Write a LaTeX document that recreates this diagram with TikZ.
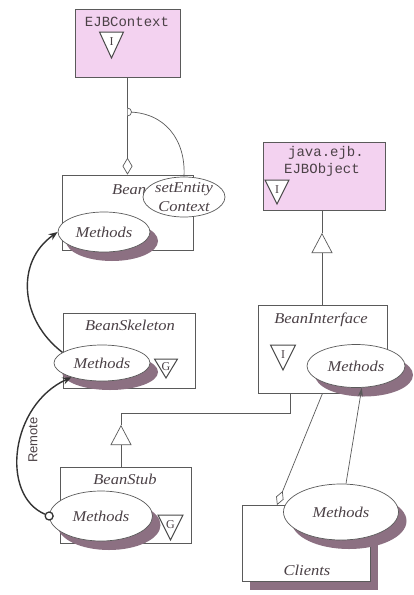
\documentclass[tikz,border=0pt]{standalone}
\usepackage{fontspec}
\setmainfont{Liberation Serif}
\setsansfont{Liberation Sans}
\setmonofont{Liberation Mono}
\newfontfamily\labfont[FakeStretch=1.1]{Liberation Serif}
\usetikzlibrary{shapes.geometric,arrows.meta,shadows}
\definecolor{lc}{RGB}{90,90,90}
\definecolor{tc}{RGB}{75,65,70}
\definecolor{pinkf}{RGB}{243,210,240}
\definecolor{shc}{RGB}{140,112,130}
% triangle marker: name, x, top y, width, height, letter
\newcommand\mytri[6]{%
  \draw[trist] (#2-#4/2,#3) -- (#2+#4/2,#3) -- (#2,#3+#5) -- cycle;
  \node[trilet] (#1) at (#2,#3+#5*0.38) {#6};}
\begin{document}
\begin{tikzpicture}[x=1pt,y=-1pt,
  box/.style={draw=lc,line width=0.7pt,fill=white,inner sep=0pt},
  pbox/.style={box,fill=pinkf},
  lbl/.style={text=tc,font=\labfont\itshape\fontsize{15}{19}\selectfont,inner sep=0pt},
  mono/.style={text=tc,font=\ttfamily\fontsize{14}{16}\selectfont,inner sep=0pt},
  meth/.style={ellipse,draw=lc,line width=0.7pt,fill=white,inner sep=0pt,lbl},
  shd/.style={drop shadow={shadow xshift=8pt,shadow yshift=-9pt,fill=shc,opacity=1}},
  trist/.style={draw=lc!80!black,line width=1pt,fill=white,line join=miter},
  trilet/.style={text=tc,font=\rmfamily\fontsize{12}{12}\selectfont,inner sep=0pt},
  ln/.style={draw=lc,line width=0.7pt},
  remote/.style={draw=black!80,line width=1.4pt,-{Stealth[length=9pt,width=7pt]}},
  gen/.style={ln,-{Triangle[open,length=20pt,width=21pt]}},
]
\useasboundingbox[fill=white] (0,0) rectangle (413,595);

% EJBContext
\node[pbox,minimum width=105pt,minimum height=68pt] (ctx) at (127.5,43) {};
\node[mono] (ctxT) at (127,22) {EJBContext};
\mytri{ctxI}{111.5}{32}{24}{26}{I}

% java.ejb.EJBObject
\node[pbox,minimum width=122pt,minimum height=68pt] (ejbo) at (324,176) {};
\node[mono] (ejboT1) at (326,153) {java.ejb.};
\node[mono] (ejboT2) at (322,170) {EJBObject};
\mytri{ejboI}{277}{180}{24}{24}{I}

% Bean
\node[box,minimum width=131pt,minimum height=75pt] (bean) at (127.5,212.5) {};
\node[lbl,anchor=west] (beanT) at (112,190) {Bean};
\node[meth,shd,minimum width=92pt,minimum height=40pt] (bm) at (104,232) {Methods};
\node[meth,minimum width=82pt,minimum height=40pt] (se) at (184,197) {};
\node[lbl,align=center] (seT) at (se) {setEntity\\Context};

% BeanSkeleton
\node[box,minimum width=132pt,minimum height=75pt] (skel) at (129,350.5) {};
\node[lbl] (skelT) at (130,325) {BeanSkeleton};
\node[meth,shd,minimum width=96pt,minimum height=36pt] (skm) at (102,363) {Methods};
\mytri{skG}{166}{359}{23}{19}{G}

% BeanStub
\node[box,minimum width=131pt,minimum height=76pt] (stub) at (125.5,505) {};
\node[lbl] (stubT) at (125,479) {BeanStub};
\node[meth,shd,minimum width=103pt,minimum height=50pt] (stm) at (101,516) {Methods};
\mytri{stG}{170.5}{515}{25}{25}{G}

% BeanInterface
\node[box,minimum width=129pt,minimum height=88pt] (bi) at (322.5,349) {};
\node[lbl] (biT) at (321,320) {BeanInterface};
\mytri{biI}{283}{345}{25}{25}{I}
\node[meth,shd,minimum width=98pt,minimum height=43pt] (bim) at (356,366) {Methods};

% Clients
\node[box,shd,minimum width=128pt,minimum height=76pt] (cl) at (306,543) {};
\node[lbl] (clT) at (307,570) {Clients};
\node[meth,shd,minimum width=115pt,minimum height=56pt] (cm) at (341,512) {Methods};

% EJBContext -- Bean aggregation
\draw[ln,-{Diamond[open,length=17pt,width=10pt]}] (ctx.south) -- (ctx.south |- bean.north);
\coordinate (hop) at (127.5,112);
\draw[ln] (hop) .. controls (165,112) and (186,140) .. (se.north);
\draw[ln,fill=white] (127.5,108) arc[start angle=90,end angle=-90,radius=4pt];

% generalisation BeanStub -> BeanInterface
\coordinate (g1) at (121,425);
\coordinate (gturn) at (290,413);
\draw[gen] (g1 |- stub.north) -- (g1);
\draw[ln] (g1) |- (gturn) -- (gturn |- bi.south);

% generalisation BeanInterface -> EJBObject
\coordinate (g2) at (322,233);
\draw[gen] (g2 |- bi.north) -- (g2);
\draw[ln] (g2) -- (g2 |- ejbo.south);

% Clients -- BeanInterface
\coordinate (cd) at (277,505);
\draw[ln,{Diamond[open,length=15pt,width=8pt]}-] (cd) -- (bi.south);
\draw[ln,-{Stealth[length=9pt,width=5pt]}] (cm.80) -- (bim.285);

% Remote arcs
\node[circle,draw=black!80,line width=1.3pt,fill=white,minimum size=8pt,inner sep=0pt] (rc) at (stm.west) {};
\draw[remote] (rc) .. controls (0,495) and (10,405) .. (skm.205);
\draw[remote] (skm.165) .. controls (20,320) and (15,262) .. (bm.west);
\node[font=\sffamily\fontsize{13}{13}\selectfont,text=tc,rotate=90,inner sep=0pt] (remT) at (33,440) {Remote};
\end{tikzpicture}
\end{document}
